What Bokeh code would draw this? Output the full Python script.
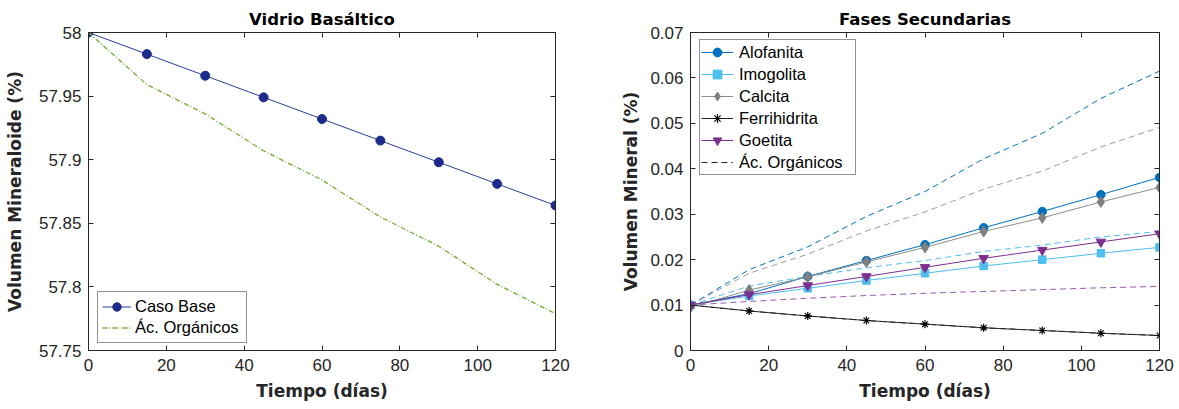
from bokeh.plotting import figure
from bokeh.layouts import row
from bokeh.models import (LinearAxis, FixedTicker, CustomJSTickFormatter, Legend,
                          LegendItem, Range1d)
from bokeh.embed import file_html
from bokeh.resources import INLINE

# ---------------- data ----------------
dias = [0, 15, 30, 45, 60, 75, 90, 105, 120]

vidrio_caso_base = [58.000, 57.983, 57.966, 57.949, 57.932, 57.915, 57.898, 57.881, 57.864]
vidrio_ac_organicos = [58.000, 57.959, 57.936, 57.907, 57.884, 57.855, 57.832, 57.802, 57.779]

alofanita = [0.0100, 0.0125, 0.0163, 0.0198, 0.0233, 0.0270, 0.0306, 0.0343, 0.0381]
imogolita = [0.0100, 0.0120, 0.0137, 0.0154, 0.0170, 0.0186, 0.0200, 0.0214, 0.0227]
calcita = [0.0095, 0.0133, 0.0162, 0.0195, 0.0227, 0.0262, 0.0292, 0.0327, 0.0359]
ferrihidrita = [0.0100, 0.0087, 0.0076, 0.0066, 0.0058, 0.0050, 0.0044, 0.0038, 0.0033]
goetita = [0.0100, 0.0123, 0.0143, 0.0163, 0.0183, 0.0203, 0.0221, 0.0239, 0.0257]

alofanita_ac = [0.0100, 0.0178, 0.0228, 0.0295, 0.0350, 0.0422, 0.0478, 0.0555, 0.0615]
imogolita_ac = [0.0100, 0.0142, 0.0163, 0.0182, 0.0198, 0.0218, 0.0232, 0.0250, 0.0262]
calcita_ac = [0.0100, 0.0170, 0.0212, 0.0263, 0.0305, 0.0355, 0.0395, 0.0448, 0.0491]
ferrihidrita_ac = [0.0100, 0.0087, 0.0076, 0.0066, 0.0058, 0.0050, 0.0044, 0.0038, 0.0033]
goetita_ac = [0.0100, 0.0108, 0.0115, 0.0121, 0.0126, 0.0130, 0.0134, 0.0138, 0.0141]

x_ticks = [0, 20, 40, 60, 80, 100, 120]
y_ticks_vidrio = [57.75, 57.8, 57.85, 57.9, 57.95, 58.0]
y_ticks_fases = [0, 0.01, 0.02, 0.03, 0.04, 0.05, 0.06, 0.07]

AX = "#262626"
TICK_FONT = "Liberation Sans"
BOLD_FONT = "DejaVu Sans"

fmt_code = "return String(Math.round(tick*100)/100)"


def style(p, xticks, yticks, xlabel, ylabel, ylab_standoff):
    p.outline_line_color = AX
    p.outline_line_width = 1
    p.xgrid.visible = False
    p.ygrid.visible = False
    p.xaxis.ticker = FixedTicker(ticks=xticks)
    p.yaxis.ticker = FixedTicker(ticks=yticks)
    p.yaxis.formatter = CustomJSTickFormatter(code=fmt_code)
    p.xaxis.formatter = CustomJSTickFormatter(code=fmt_code)
    for ax in (p.xaxis[0], p.yaxis[0]):
        ax.axis_line_color = AX
        ax.major_tick_line_color = AX
        ax.major_tick_in = 5
        ax.major_tick_out = 0
        ax.minor_tick_line_color = None
        ax.major_label_text_font = TICK_FONT
        ax.major_label_text_font_size = "17px"
        ax.major_label_text_color = AX
        ax.axis_label_text_font = BOLD_FONT
        ax.axis_label_text_font_size = "17px"
        ax.axis_label_text_font_style = "bold"
        ax.axis_label_text_color = AX
    p.xaxis.axis_label = xlabel
    p.yaxis.axis_label = ylabel
    p.xaxis.major_label_standoff = 8
    p.yaxis.major_label_standoff = 7
    p.xaxis.axis_label_standoff = 7
    p.yaxis.axis_label_standoff = ylab_standoff
    # mirrored ticks (box on)
    for loc, tk in (("right", yticks), ("above", xticks)):
        a = LinearAxis(ticker=FixedTicker(ticks=tk))
        a.axis_line_color = AX
        a.major_tick_line_color = AX
        a.major_tick_in = 5
        a.major_tick_out = 0
        a.minor_tick_line_color = None
        a.major_label_text_font_size = "0px"
        a.major_label_standoff = 0
        a.formatter = CustomJSTickFormatter(code="return ''")
        p.add_layout(a, loc)
    p.title.text_font = BOLD_FONT
    p.title.text_font_size = "16.5px"
    p.title.text_font_style = "bold"
    p.title.text_color = "#000000"
    p.title.align = "center"
    p.title.standoff = 7


# ---------------- left: Vidrio Basáltico ----------------
p1 = figure(width=600, height=409, output_backend="svg", toolbar_location=None,
            title="Vidrio Basáltico",
            x_range=Range1d(0, 120), y_range=Range1d(57.75, 58.0),
            min_border_left=88, min_border_right=45, min_border_top=32,
            min_border_bottom=59)
style(p1, x_ticks, y_ticks_vidrio, "Tiempo (días)", "Volumen Mineraloide (%)", 11)

navy = "#1c2c8c"
green = "#77AC30"
l_base = p1.line(dias, vidrio_caso_base, line_color="#2a3f9e", line_width=1)
m_base = p1.scatter(dias, vidrio_caso_base, marker="circle", size=9,
                    fill_color=navy, line_color=navy)
l_ac = p1.line(dias, vidrio_ac_organicos, line_color=green, line_width=1.3,
               line_dash="5 2 1 2")

leg1 = Legend(items=[LegendItem(label="Caso Base", renderers=[l_base, m_base]),
                     LegendItem(label="Ác. Orgánicos", renderers=[l_ac])],
              location=(9, 7))
leg1.label_text_font = TICK_FONT
leg1.label_text_font_size = "16.5px"
leg1.label_text_color = "#000000"
leg1.glyph_width = 29
leg1.glyph_height = 21
leg1.label_height = 21
leg1.label_width = 107
leg1.label_standoff = 4
leg1.spacing = 0
leg1.padding = 4
leg1.margin = 0
leg1.border_line_color = AX
leg1.border_line_width = 1.5
leg1.background_fill_color = "white"
leg1.background_fill_alpha = 1
p1.add_layout(leg1, "center")

# ---------------- right: Fases Secundarias ----------------
p2 = figure(width=579, height=409, output_backend="svg", toolbar_location=None,
            title="Fases Secundarias",
            x_range=Range1d(0, 120), y_range=Range1d(0, 0.07),
            min_border_left=90, min_border_right=20, min_border_top=32,
            min_border_bottom=59)
style(p2, x_ticks, y_ticks_fases, "Tiempo (días)", "Volumen Mineral (%)", 6)

c_alo = "#0072BD"
c_imo = "#4DBEEE"
c_cal = "#808080"
c_fer = "#000000"
c_goe = "#7E2F8E"

# dashed (Ác. Orgánicos) series
p2.line(dias, alofanita_ac, line_color=c_alo, line_width=1, line_dash="6 4")
p2.line(dias, calcita_ac, line_color="#9a9a9a", line_width=1, line_dash="6 4")
p2.line(dias, imogolita_ac, line_color=c_imo, line_width=1, line_dash="6 4")
p2.line(dias, goetita_ac, line_color="#9B59AE", line_width=1, line_dash="6 4")
l_dash = p2.line(dias, ferrihidrita_ac, line_color=AX, line_width=1, line_dash="6 4")

la = p2.line(dias, alofanita, line_color=c_alo, line_width=1)
ma = p2.scatter(dias, alofanita, marker="circle", size=8.5, fill_color=c_alo, line_color=c_alo)
li = p2.line(dias, imogolita, line_color=c_imo, line_width=1)
mi = p2.scatter(dias, imogolita, marker="square", size=7.5, fill_color=c_imo, line_color=c_imo)
lc = p2.line(dias, calcita, line_color="#8c8c8c", line_width=1)
mc = p2.scatter(dias, calcita, marker="diamond", size=11, fill_color=c_cal, line_color=c_cal)
lf = p2.line(dias, ferrihidrita, line_color="#262626", line_width=1)
mf = p2.scatter(dias, ferrihidrita, marker="asterisk", size=8, line_color=c_fer, line_width=1.2)
lg = p2.line(dias, goetita, line_color=c_goe, line_width=1)
mg = p2.scatter(dias, goetita, marker="inverted_triangle", size=9.5, fill_color=c_goe, line_color=c_goe)

leg2 = Legend(items=[LegendItem(label="Alofanita", renderers=[la, ma]),
                     LegendItem(label="Imogolita", renderers=[li, mi]),
                     LegendItem(label="Calcita", renderers=[lc, mc]),
                     LegendItem(label="Ferrihidrita", renderers=[lf, mf]),
                     LegendItem(label="Goetita", renderers=[lg, mg]),
                     LegendItem(label="Ác. Orgánicos", renderers=[l_dash])],
              location=(9, 175))
leg2.label_text_font = TICK_FONT
leg2.label_text_font_size = "16.5px"
leg2.label_text_color = "#000000"
leg2.glyph_width = 32
leg2.glyph_height = 22
leg2.label_height = 22
leg2.label_width = 115
leg2.label_standoff = 6
leg2.spacing = 0
leg2.padding = 1
leg2.margin = 0
leg2.border_line_color = AX
leg2.border_line_width = 1.5
leg2.background_fill_color = "white"
leg2.background_fill_alpha = 1
p2.add_layout(leg2, "center")

layout = row(p1, p2)
open("out.html", "w").write(file_html(layout, INLINE))
